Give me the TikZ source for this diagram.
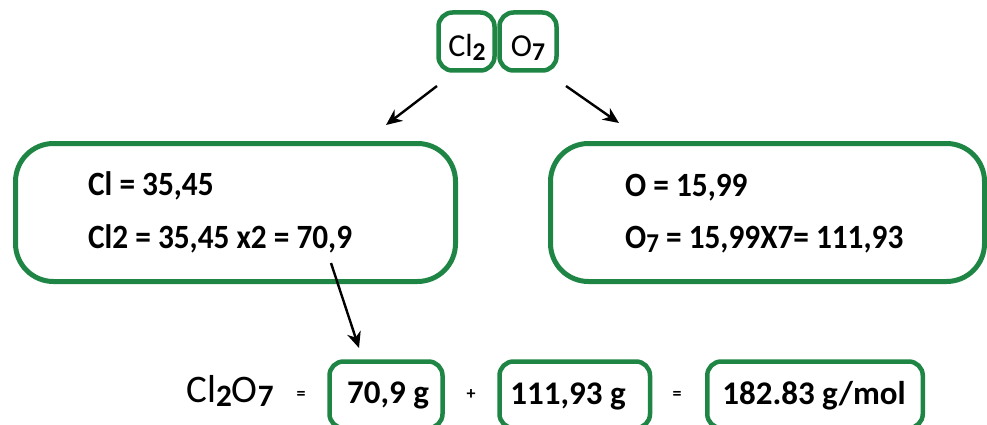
\documentclass[tikz,border=0pt]{standalone}
\usepackage{fontspec}
\setmainfont{Carlito}
\newfontfamily\narrowf[FakeStretch=0.92]{Carlito}
\usetikzlibrary{arrows.meta}
\definecolor{grn}{RGB}{31,133,68}
\newcommand{\sbs}[1]{\raisebox{-0.12em}{\fontsize{0.8em}{0.9em}\selectfont\bfseries #1}}
\tikzset{
  bigbox/.style={draw=grn, line width=5pt, rounded corners=38pt, inner sep=0pt},
  smallbox/.style={draw=grn, line width=4.5pt, rounded corners=14pt, inner sep=0pt},
  txt/.style={anchor=base west, inner sep=0pt, font=\narrowf\fontsize{34}{38}\selectfont\bfseries},
  reg/.style={anchor=base, inner sep=0pt, font=\fontsize{32}{35}\selectfont},
  regbig/.style={anchor=base, inner sep=0pt, font=\fontsize{39}{42}\selectfont},
  op/.style={anchor=base, inner sep=0pt, font=\fontsize{18}{20}\selectfont\bfseries},
  val/.style={anchor=base, inner sep=0pt, font=\fontsize{33}{36}\selectfont\bfseries},
  arr/.style={line width=2.4pt, -{Stealth[length=16pt,width=14pt,inset=5pt]}}
}
\begin{document}
\begin{tikzpicture}[x=1pt,y=-1pt]
\useasboundingbox (0,0) rectangle (987,425);
% top boxes
\node[smallbox, minimum width=56pt, minimum height=58pt] (cl2box) at (466.5,41.5) {};
\node[smallbox, minimum width=57pt, minimum height=58pt] (o7box) at (528,41.5) {};
\node[reg] (cl2t) at (467,57) {Cl\sbs{2}};
\node[reg] (o7t) at (528,57) {O\sbs{7}};
% big boxes
\node[bigbox, minimum width=440pt, minimum height=138pt] (lbox) at (235.5,212.5) {};
\node[bigbox, minimum width=434pt, minimum height=138pt] (rbox) at (767.5,212.5) {};
\node[txt] (l1) at (88,195) {Cl = 35,45};
\node[txt] (l2) at (88,248) {Cl2 = 35,45 x2 = 70,9};
\node[txt] (r1) at (625,196) {O = 15,99};
\node[txt] (r2) at (625,248) {O\sbs{7} = 15,99X7= 111,93};
% arrows
\coordinate (a1s) at (437,86);
\coordinate (a1e) at (386,125);
\coordinate (a2s) at (566,86);
\coordinate (a2e) at (619,123);
\coordinate (a3s) at (331,263);
\coordinate (a3e) at (359,348);
\draw[arr] (a1s) -- (a1e);
\draw[arr] (a2s) -- (a2e);
\draw[arr] (a3s) -- (a3e);
% bottom row
\node[regbig] (form) at (230,402) {Cl\sbs{2}O\sbs{7}};
\node[op] (eq1) at (301,399) {=};
\node[smallbox, minimum width=113pt, minimum height=66.5pt] (b1) at (386,394.75) {};
\node[op] (plus) at (471,399) {+};
\node[smallbox, minimum width=150.5pt, minimum height=66.5pt] (b2) at (574.75,394.75) {};
\node[op] (eq2) at (677,399) {=};
\node[smallbox, minimum width=215.5pt, minimum height=66.5pt] (b3) at (815,394.75) {};
\node[val] (t1) at (388,403) {70,9 g};
\node[val] (t2) at (568,404) {111,93 g};
\node[val] (t3) at (814,404) {182.83 g/mol};
\end{tikzpicture}
\end{document}
